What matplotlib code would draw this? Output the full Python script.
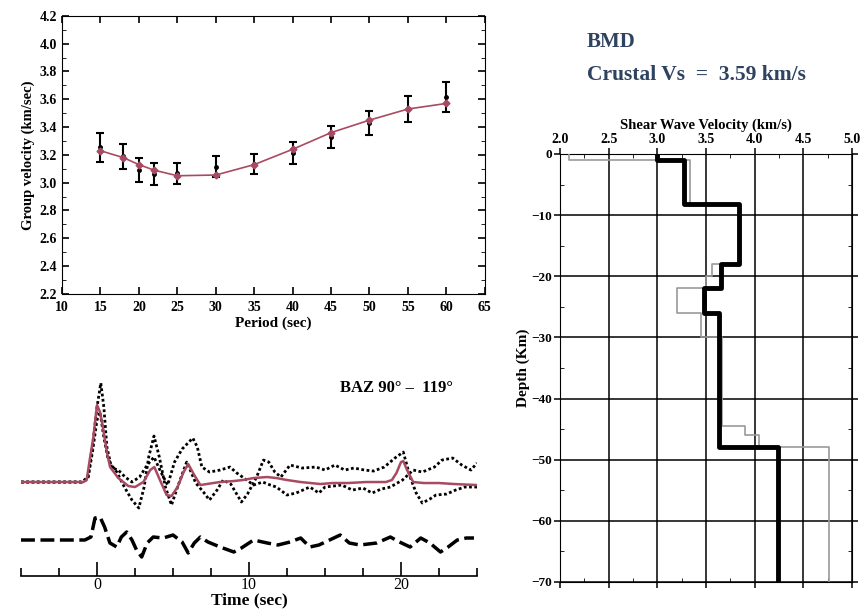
import numpy as np
import matplotlib
matplotlib.use("Agg")
import matplotlib.pyplot as plt
from matplotlib.ticker import MultipleLocator, FixedLocator

plt.rcParams["font.family"] = ["Liberation Serif", "DejaVu Serif"]
plt.rcParams["font.weight"] = "bold"

# Dispersione velocita' di gruppo
periodo = [15, 18, 20, 22, 25, 30, 35, 40, 45, 50, 55, 60]
vel_modello = [3.23, 3.18, 3.13, 3.09, 3.05, 3.055, 3.13, 3.24, 3.36, 3.45, 3.53, 3.57]
vel_oss = [3.256, 3.190, 3.092, 3.064, 3.067, 3.115, 3.135, 3.214, 3.327, 3.430, 3.530, 3.618]
err_oss = [0.105, 0.089, 0.085, 0.080, 0.077, 0.077, 0.073, 0.082, 0.080, 0.087, 0.096, 0.108]

# Receiver function: due tracce osservate (punteggiate), sintetica (rossa), residuo (tratteggiato)
t_a = [-5.0, -1.0, -0.6, -0.3, 0.0, 0.25, 0.45, 0.65, 0.9, 1.3, 1.8, 2.3, 2.75, 3.1, 3.4,
       3.75, 4.1, 4.5, 4.9, 5.3, 5.9, 6.5, 7.0, 7.4, 7.9, 8.3, 8.8, 9.5, 9.9, 10.5,
       10.95, 11.3, 11.7, 12.1, 12.7, 13.5, 14.4, 15.0, 15.65, 16.3, 16.9, 17.6, 18.2, 18.9, 19.6,
       20.15, 20.6, 21.0, 21.4, 21.9, 22.3, 23.0, 23.6, 24.2, 25.0]
amp_a = [0.0, 0.0, 0.05, 0.35, 0.75, 0.99, 0.75, 0.35, 0.18, 0.10, -0.05, -0.18, -0.26, -0.05, 0.25,
         0.46, 0.25, -0.05, -0.23, -0.05, 0.20, -0.01, -0.10, -0.18, -0.08, 0.02, -0.02, -0.20, -0.12, 0.05,
         0.22, 0.20, 0.10, 0.05, 0.17, 0.14, 0.15, 0.12, 0.17, 0.12, 0.14, 0.12, 0.11, 0.15, 0.24,
         0.30, 0.05, -0.11, -0.21, -0.17, -0.13, -0.12, -0.08, -0.05, -0.05]

t_b = [-5.0, -1.0, -0.6, -0.3, 0.0, 0.2, 0.45, 0.7, 1.0, 1.4, 1.85, 2.3, 2.8, 3.3, 3.75,
       4.2, 4.65, 5.1, 5.6, 6.3, 6.6, 6.9, 7.4, 8.1, 8.75, 9.2, 9.85, 10.3, 10.9, 11.4,
       11.8, 12.5, 13.1, 14.0, 14.6, 15.0, 16.1, 16.8, 17.5, 18.1, 18.7, 19.3, 20.1, 20.8, 21.4,
       22.2, 22.7, 23.4, 24.0, 24.6, 25.0]
amp_b = [0.0, 0.0, 0.03, 0.30, 0.62, 0.70, 0.45, 0.25, 0.14, 0.12, 0.05, 0.0, 0.05, 0.17, 0.25,
         0.10, -0.03, 0.20, 0.33, 0.44, 0.35, 0.15, 0.10, 0.12, 0.15, 0.09, 0.02, -0.03, 0.0, -0.03,
         -0.05, -0.13, -0.11, -0.05, -0.11, -0.05, -0.03, -0.08, -0.06, -0.11, -0.07, -0.05, 0.02, 0.12, 0.10,
         0.15, 0.22, 0.24, 0.17, 0.12, 0.19]

t_sint = [-5.0, -0.9, -0.68, -0.45, -0.24, 0.0, 0.2, 0.42, 0.65, 0.86, 1.4, 2.06, 2.5, 3.05, 3.5,
          3.77, 4.14, 4.58, 4.9, 5.3, 5.7, 6.0, 6.4, 6.8, 7.65, 8.1, 9.0, 9.6, 10.3, 11.2,
          11.8, 12.5, 13.4, 14.7, 15.5, 16.5, 17.7, 19.0, 19.4, 19.7, 20.0, 20.15, 20.4, 20.8, 21.5,
          22.5, 23.5, 25.0]
amp_sint = [0.0, 0.0, 0.02, 0.25, 0.45, 0.77, 0.70, 0.52, 0.30, 0.15, 0.04, -0.04, -0.05, 0.0, 0.12,
            0.15, 0.02, -0.13, -0.14, -0.05, 0.10, 0.18, 0.07, -0.03, -0.01, 0.0, 0.01, 0.02, 0.04, 0.05,
            0.04, 0.02, 0.0, -0.02, -0.01, -0.01, 0.0, 0.0, 0.02, 0.09, 0.20, 0.21, 0.12, 0.0, -0.01,
            -0.01, -0.02, -0.03]

t_res = [-5.0, -0.8, -0.4, -0.13, 0.2, 0.5, 0.85, 1.3, 1.6, 1.95, 2.3, 2.6, 2.94, 3.3, 3.7,
         4.36, 5.0, 5.6, 6.0, 6.4, 6.8, 7.3, 8.1, 9.0, 9.5, 10.3, 11.2, 11.9, 12.7, 13.4,
         14.0, 14.6, 15.3, 16.0, 16.6, 17.3, 18.4, 19.3, 19.9, 20.6, 21.3, 21.9, 22.6, 23.1, 23.7,
         24.3, 24.8]
amp_res = [0.0, 0.0, 0.03, 0.22, 0.23, 0.13, -0.03, -0.07, 0.03, 0.08, 0.0, -0.10, -0.17, -0.03, 0.03,
           0.02, 0.05, -0.02, -0.13, -0.03, 0.03, -0.02, -0.07, -0.12, -0.08, 0.0, -0.03, -0.05, -0.02, 0.02,
           -0.07, -0.05, 0.0, 0.05, -0.03, -0.05, -0.03, 0.03, -0.02, -0.07, 0.02, -0.03, -0.12, -0.07, 0.0,
           0.02, 0.02]

# Modelli di velocita' Vs a strati (limiti in km, velocita' in km/s)
limiti_finale = [0, -1, -8.2, -18, -22, -26, -48, -70]
vs_finale = [3.0, 3.27, 3.84, 3.65, 3.48, 3.63, 4.24]
limiti_iniziale = [0, -1, -8.2, -18, -20, -22, -26, -30, -44.5, -46, -48, -70]
vs_iniziale = [2.09, 3.34, 3.84, 3.56, 3.50, 3.20, 3.45, 3.67, 3.90, 4.05, 4.77]

ROSSO = "#a84a62"
BLU = "#2f4260"


def gradini(limiti, vs):
    x = np.repeat(vs, 2)
    y = np.column_stack([limiti[:-1], limiti[1:]]).ravel()
    return x, y


fig = plt.figure(figsize=(8.61, 6.11), dpi=100)

# --- curva di dispersione ---
ax1 = fig.add_axes([0.072, 0.519, 0.491, 0.455])
ax1.errorbar(periodo, vel_oss, yerr=err_oss, fmt="o", color="black", ms=2.5,
             capsize=3, elinewidth=1.5, capthick=1.5, zorder=2)
ax1.plot(periodo, vel_modello, color=ROSSO, lw=1.2, marker="D", ms=3.5, zorder=3)
ax1.set_xlim(10, 65)
ax1.set_ylim(2.2, 4.2)
ax1.xaxis.set_major_locator(MultipleLocator(5))
ax1.yaxis.set_major_locator(MultipleLocator(0.2))
ax1.yaxis.set_minor_locator(MultipleLocator(0.1))
ax1.tick_params(which="both", direction="in", top=True, right=True, labelsize=10)
ax1.tick_params(which="major", length=5, width=1.2)
ax1.tick_params(which="minor", length=3)
ax1.tick_params(axis="x", pad=5)
ax1.set_xlabel("Period (sec)", fontsize=11, fontweight="bold", labelpad=2)
ax1.set_ylabel("Group velocity (km/sec)", fontsize=10.5, fontweight="bold", labelpad=3)

# --- receiver function ---
ax2 = fig.add_axes([0.0244, 0.0573, 0.5296, 0.337])
ax2.plot(t_a, amp_a, color="black", lw=2.0, ls=(0, (1, 0.9)))
ax2.plot(t_b, amp_b, color="black", lw=2.0, ls=(0, (1, 0.9)))
ax2.plot(t_sint, amp_sint, color=ROSSO, lw=1.8)
ax2.plot(t_res, np.array(amp_res) - 0.58, color="black", lw=2.5, ls=(0, (4, 1.6)))
ax2.set_xlim(-5, 25)
ax2.set_ylim(-0.94, 1.12)
for lato in ["top", "right", "left"]:
    ax2.spines[lato].set_visible(False)
ax2.spines["bottom"].set_linewidth(1.2)
ax2.set_yticks([])
ax2.xaxis.set_major_locator(FixedLocator([0, 10, 20]))
ax2.xaxis.set_minor_locator(MultipleLocator(2.5))
ax2.set_xticks([0, 10, 20], labels=["0", "10", "20"], fontweight="normal", fontsize=11.5)
ax2.tick_params(which="both", direction="in", width=1.2)
ax2.tick_params(which="major", length=10, pad=1)
ax2.tick_params(which="minor", length=6)
ax2.set_xlabel("Time (sec)", fontsize=12.5, fontweight="bold", labelpad=-1)
fig.text(340 / 861, 1 - 388 / 611, "BAZ 90\u00b0 \u2013  119\u00b0", fontsize=12,
         fontweight="bold", va="center", ha="left")

# --- profilo di velocita' ---
ax3 = fig.add_axes([0.6504, 0.0475, 0.339, 0.7005])
xg, yg = gradini(limiti_iniziale, vs_iniziale)
xn, yn = gradini(limiti_finale, vs_finale)
ax3.plot(xg, yg, color="#9a9a9a", lw=1.2, zorder=3)
ax3.plot(xn, yn, color="black", lw=3.5, zorder=4)
ax3.set_xlim(2, 5)
ax3.set_ylim(-70, 0)
ax3.xaxis.set_major_locator(MultipleLocator(0.5))
ax3.xaxis.set_minor_locator(MultipleLocator(0.25))
ax3.yaxis.set_major_locator(MultipleLocator(10))
ax3.yaxis.set_minor_locator(MultipleLocator(5))
ax3.grid(True, which="major", color="black", lw=1.1)
ax3.xaxis.tick_top()
ax3.xaxis.set_label_position("top")
ax3.tick_params(which="major", direction="out", length=4, width=1.1, top=True, bottom=True,
                left=True, right=True, labeltop=True, labelbottom=False, pad=2)
ax3.tick_params(axis="x", labelsize=10)
ax3.tick_params(axis="y", labelsize=9.5)
ax3.tick_params(which="minor", direction="in", length=3, top=True, bottom=True, left=True, right=True)
ax3.set_xlabel("Shear Wave Velocity (km/s)", fontsize=10.5, fontweight="bold", labelpad=3)
ax3.set_ylabel("Depth (Km)", fontsize=11, fontweight="bold", labelpad=1)

fig.text(587 / 861, 1 - 47 / 611, "BMD", fontsize=15, color=BLU, fontweight="bold", va="baseline")
fig.text(587 / 861, 1 - 80 / 611, "Crustal Vs  =  3.59 km/s", fontsize=15.5, color=BLU,
         fontweight="bold", va="baseline")

fig.savefig("out.png", dpi=100)
